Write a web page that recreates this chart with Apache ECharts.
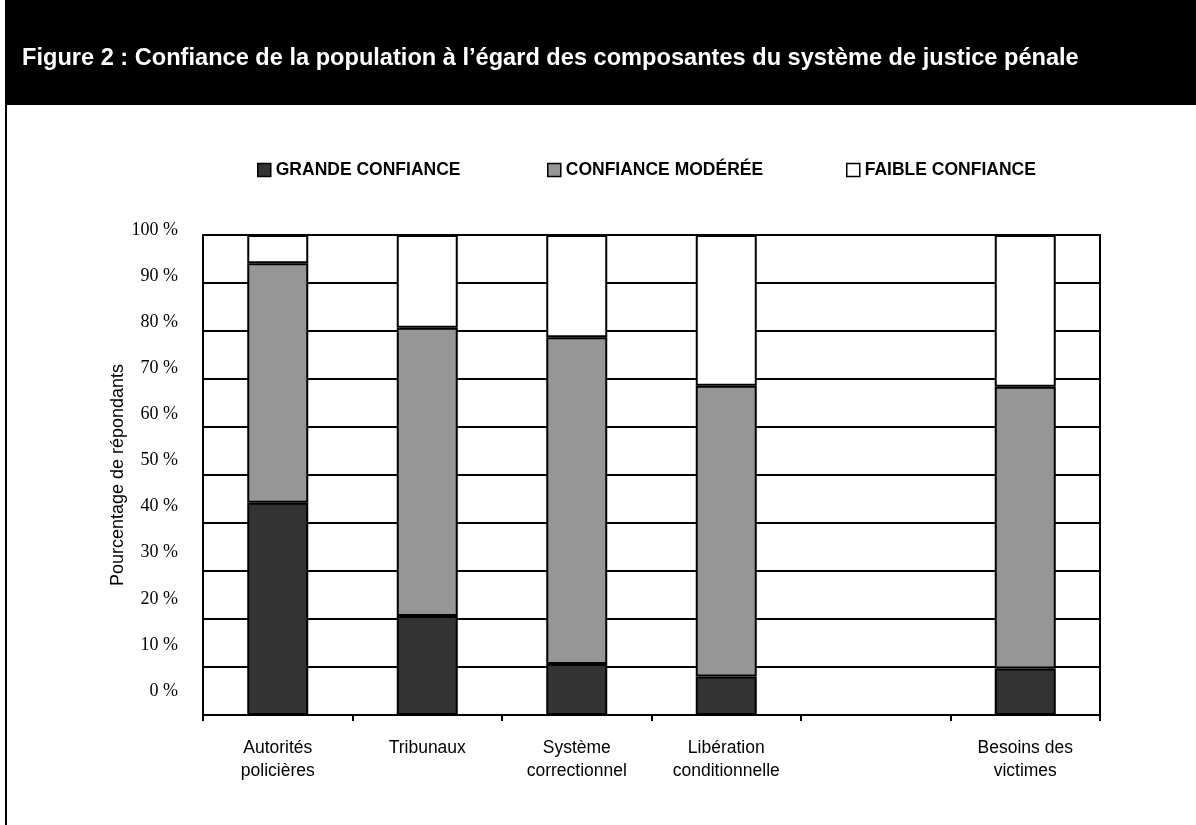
<!DOCTYPE html>
<html>
<head>
<meta charset="utf-8">
<script src="https://cdn.jsdelivr.net/npm/echarts@6/dist/echarts.min.js"></script>
<style>
html,body{margin:0;padding:0;background:#fff;}
#chart{width:1196px;height:825px;}
</style>
</head>
<body>
<div id="chart"></div>
<script>
const titleText = "Figure 2 : Confiance de la population à l’égard des composantes du système de justice pénale";
const categories = ["Autorités\npolicières", "Tribunaux", "Système\ncorrectionnel", "Libération\nconditionnelle", "", "Besoins des\nvictimes"];
const seriesNames = ["GRANDE CONFIANCE", "CONFIANCE MODÉRÉE", "FAIBLE CONFIANCE"];
const grande = [44.2, 20.6, 10.6, 8.0, null, 9.7];
const moderee = [49.9, 60.1, 68.1, 60.6, null, 58.7];
const faible = [5.9, 19.3, 21.3, 31.4, null, 31.6];
const yTicks = [0, 10, 20, 30, 40, 50, 60, 70, 80, 90, 100];
const yAxisTitle = "Pourcentage de répondants";

const colors = ["#333333", "#969696", "#ffffff"];
const chart = echarts.init(document.getElementById('chart'));

const legendLefts = [257, 547, 846];
const legendCfg = seriesNames.map((n, i) => ({
  data: [n],
  left: legendLefts[i],
  top: 161,
  padding: 0,
  icon: 'rect',
  itemWidth: 13,
  itemHeight: 13,
  itemStyle: {borderColor: '#000', borderWidth: 1.5},
  textStyle: {fontFamily: 'Liberation Sans, Arial', fontWeight: 'bold', fontSize: 17.5, color: '#000', padding: [0,0,0,0]},
  selectedMode: false
}));

const seriesData = [grande, moderee, faible];
const option = {
  animation: false,
  backgroundColor: '#fff',
  graphic: [
    {type: 'rect', left: 5, top: 0, shape: {width: 1191, height: 105}, style: {fill: '#000'}, z: 0},
    {type: 'rect', left: 5, top: 105, shape: {width: 2, height: 720}, style: {fill: '#000'}, z: 0},
    {type: 'text', x: 22, y: 58, style: {text: titleText, fill: '#fff', font: 'bold 23.6px "Liberation Sans", Arial', verticalAlign: 'middle'}, z: 10}
  ],
  legend: legendCfg,
  grid: [
    {left: 203, right: 96, top: 235, bottom: 110, show: true, borderColor: '#000', borderWidth: 2, backgroundColor: 'transparent'},
    {left: 203, right: 96, top: 230, bottom: 134, show: false}
  ],
  xAxis: [
    {
      type: 'category', gridIndex: 0, data: categories,
      axisLine: {lineStyle: {color: '#000', width: 2}},
      axisTick: {show: true, interval: 0, length: 6, lineStyle: {color: '#000', width: 2}},
      axisLabel: {interval: 0, margin: 22, color: '#000', fontFamily: 'Liberation Sans, Arial', fontSize: 17.5, lineHeight: 23}
    },
    {type: 'category', gridIndex: 1, data: categories, show: false}
  ],
  yAxis: [
    {
      type: 'value', gridIndex: 0, min: 0, max: 100, interval: 10,
      axisLine: {show: true, lineStyle: {color: '#000', width: 2}},
      axisTick: {show: false},
      axisLabel: {show: false},
      splitLine: {show: true, lineStyle: {color: '#000', width: 2}},
      name: yAxisTitle, nameLocation: 'middle', nameRotate: 90, nameGap: 76,
      nameTextStyle: {fontFamily: 'Liberation Sans, Arial', fontSize: 18, color: '#000'}
    },
    {
      type: 'value', gridIndex: 1, min: 0, max: 100, interval: 10,
      axisLine: {show: false}, axisTick: {show: false}, splitLine: {show: false},
      axisLabel: {show: true, margin: 25, color: '#000', fontFamily: 'Liberation Serif, Times New Roman', fontSize: 18,
        formatter: v => yTicks.includes(v) ? v + ' %' : ''}
    }
  ],
  series: seriesNames.map((n, i) => ({
    name: n, type: 'bar', stack: 'total', xAxisIndex: 0, yAxisIndex: 0,
    data: seriesData[i], barWidth: 61,
    itemStyle: {color: colors[i], borderColor: '#000', borderWidth: 2}
  }))
};
chart.setOption(option);
</script>
</body>
</html>
